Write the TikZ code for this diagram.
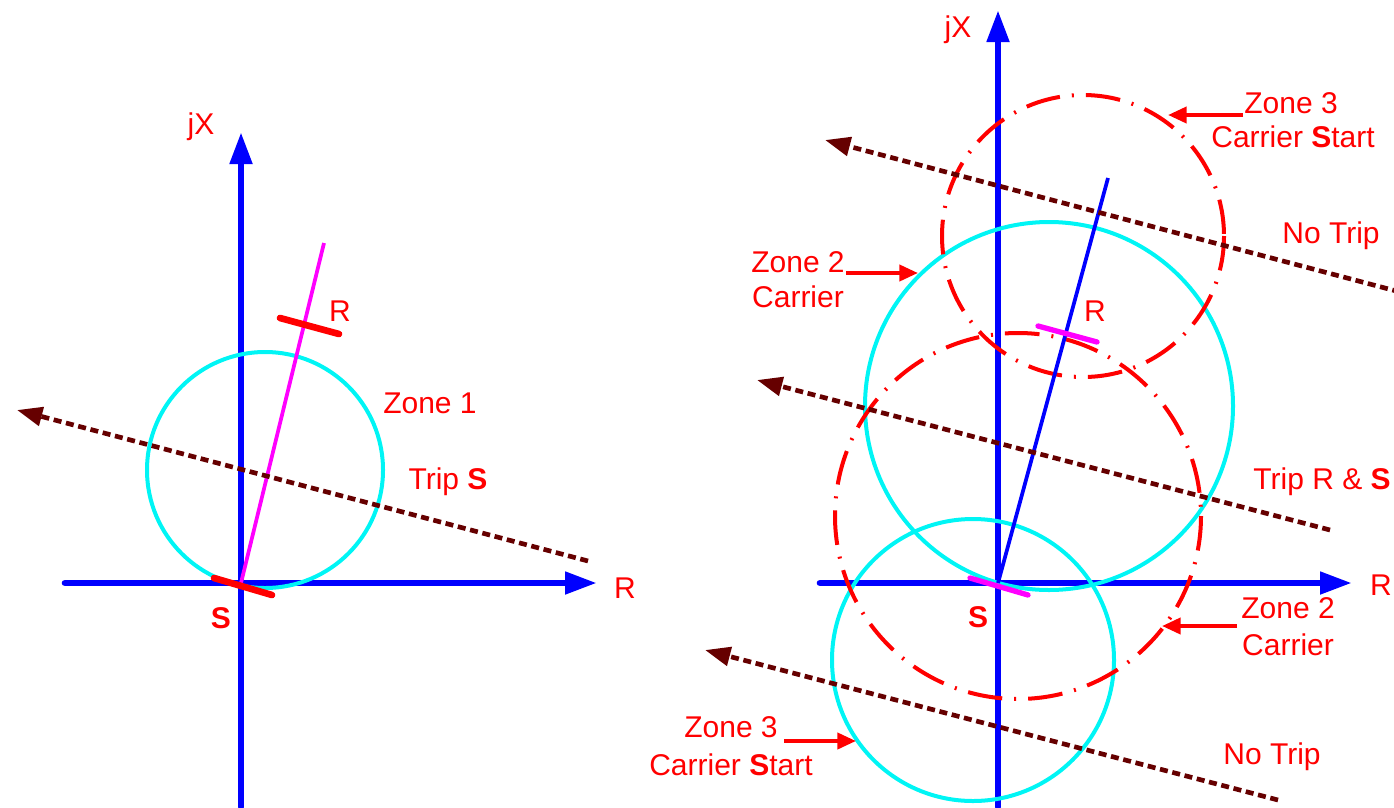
\documentclass[tikz,border=0pt]{standalone}
\usepackage{fontspec}
\setmainfont{Liberation Sans}
\usetikzlibrary{arrows.meta}
\definecolor{axblue}{RGB}{0,0,255}
\definecolor{zcyan}{RGB}{0,245,245}
\definecolor{lmag}{RGB}{255,0,255}
\definecolor{lred}{RGB}{255,0,0}
\definecolor{dred}{RGB}{102,0,0}
\begin{document}
\begin{tikzpicture}[x=0.75pt,y=-0.75pt,
 axis/.style={draw=axblue,line width=5pt,line cap=round,-{Triangle[length=24pt,width=16pt]}},
 zone/.style={draw=zcyan,line width=3pt},
 zonedd/.style={draw=lred,line width=3pt,dash pattern=on 26pt off 9pt on 1.5pt off 9pt},
 impline/.style={line width=2.8pt},
 tickmark/.style={line width=5pt,line cap=round},
 fault/.style={draw=dred,line width=3.5pt,dash pattern=on 6pt off 3.5pt,-{Triangle[length=19pt,width=14pt]}},
 lbl/.style={text=lred,font=\fontsize{22.5}{25}\selectfont,inner sep=0pt},
 callout/.style={draw=lred,line width=3pt,-{Triangle[length=14pt,width=12pt]}}
]
\useasboundingbox (0,0) rectangle (1394,807);

% ---------------- left panel ----------------
\coordinate (O1) at (241,583);
\coordinate (xa1) at (65,583);
\coordinate (xb1) at (597,583);
\coordinate (ya1) at (241,807);
\coordinate (yb1) at (241,132);
\draw[axis] (xa1) -- (xb1);
\draw[axis] (ya1) -- (yb1);
\draw[zone] (265,470) circle[radius=118];
\coordinate (T1) at (324,243);
\draw[impline,lmag] (O1) -- (T1);
\coordinate (rt1a) at (280,318);
\coordinate (rt1b) at (339,334);
\draw[tickmark,lred] (rt1a) -- (rt1b);
\coordinate (st1a) at (214,578);
\coordinate (st1b) at (272,595);
\draw[tickmark,lred] (st1a) -- (st1b);
\coordinate (f1s) at (588,561);
\coordinate (f1e) at (17,410);
\draw[fault] (f1s) -- (f1e);

\node[lbl] (jx1) at (201,127) {jX};
\node[lbl] (rax1) at (625,588) {R};
\node[lbl] (s1) at (221,618) {\textbf{S}};
\node[lbl] (r1) at (340,311) {R};
\node[lbl] (zone1) at (430,403) {Zone 1};
\node[lbl] (trips) at (448,482) {Trip \textbf{S}};

% ---------------- right panel ----------------
\coordinate (O2) at (998,583);
\coordinate (xa2) at (820,583);
\coordinate (xb2) at (1352,583);
\coordinate (ya2) at (998,807);
\coordinate (yb2) at (998,10);
\draw[axis] (xa2) -- (xb2);
\draw[axis] (ya2) -- (yb2);
\draw[zone] (1049,406) circle[radius=184];
\draw[zone] (973,660) circle[radius=141];
\draw[zonedd] (1083,236) circle[radius=141];
\draw[zonedd] (1018,516) circle[radius=183];
\coordinate (T2) at (1108,178);
\draw[impline,axblue] (O2) -- (T2);
\coordinate (rt2a) at (1038,326);
\coordinate (rt2b) at (1097,342);
\draw[tickmark,lmag,line width=4pt] (rt2a) -- (rt2b);
\coordinate (st2a) at (970,578);
\coordinate (st2b) at (1028,595);
\draw[tickmark,lmag,line width=4pt] (st2a) -- (st2b);
\coordinate (f2s) at (1400,292);
\coordinate (f2e) at (825,140);
\draw[fault] (f2s) -- (f2e);
\coordinate (f3s) at (1330,530);
\coordinate (f3e) at (757,380);
\draw[fault] (f3s) -- (f3e);
\coordinate (f4s) at (1278,800);
\coordinate (f4e) at (705,650);
\draw[fault] (f4s) -- (f4e);

\node[lbl] (jx2) at (958,30) {jX};
\node[lbl] (rax2) at (1381,585) {R};
\node[lbl] (s2) at (978,617) {\textbf{S}};
\node[lbl] (r2) at (1095,311) {R};

\node[lbl] (z3a) at (1291,103) {Zone 3};
\node[lbl] (z3b) at (1293,137) {Carrier \textbf{S}tart};
\coordinate (c1s) at (1243,115);
\coordinate (c1e) at (1168,115);
\draw[callout] (c1s) -- (c1e);

\node[lbl] (nt1) at (1331,236) {No Trip};

\node[lbl] (z2a) at (798,262) {Zone 2};
\node[lbl] (z2b) at (798,297) {Carrier};
\coordinate (c2s) at (846,273);
\coordinate (c2e) at (918,273);
\draw[callout] (c2s) -- (c2e);

\node[lbl] (trs) at (1322,482) {Trip R \& \textbf{S}};

\node[lbl] (z2c) at (1288,608) {Zone 2};
\node[lbl] (z2d) at (1288,645) {Carrier};
\coordinate (c3s) at (1237,626);
\coordinate (c3e) at (1162,626);
\draw[callout] (c3s) -- (c3e);

\node[lbl] (z3c) at (731,727) {Zone 3};
\node[lbl] (z3d) at (731,765) {Carrier \textbf{S}tart};
\coordinate (c4s) at (784,741);
\coordinate (c4e) at (856,741);
\draw[callout] (c4s) -- (c4e);

\node[lbl] (nt2) at (1272,757) {No Trip};
\end{tikzpicture}
\end{document}
